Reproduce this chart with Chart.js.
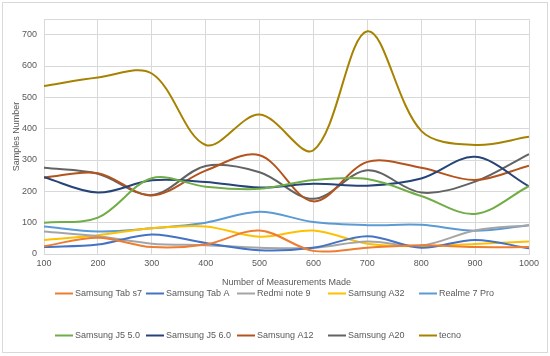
<!DOCTYPE html>
<html>
<head>
<meta charset="utf-8">
<script src="https://cdn.jsdelivr.net/npm/chart.js@4"></script>
<style>
  body { margin: 0; background: #fff; }
  #wrap { width: 550px; height: 356px; }
</style>
</head>
<body>
<div id="wrap"><canvas id="chart" width="550" height="356"></canvas></div>
<script>
// measurement counts (x axis)
const measurements = [100, 200, 300, 400, 500, 600, 700, 800, 900, 1000];

// samples number per device
const tabS7    = [25, 52, 22, 30, 75, 10, 20, 28, 22, 22];
const tabA     = [22, 30, 62, 35, 12, 20, 57, 20, 45, 18];
const redmi9   = [72, 57, 33, 28, 20, 20, 40, 27, 75, 92];
const a32      = [45, 60, 82, 88, 55, 75, 33, 25, 32, 40];
const realme7  = [88, 72, 82, 100, 135, 102, 92, 93, 74, 92];
const j5_50    = [100, 116, 242, 215, 208, 236, 239, 185, 128, 217];
const j5_60    = [245, 196, 235, 230, 212, 224, 218, 241, 310, 216];
const a12      = [244, 258, 187, 266, 315, 168, 294, 275, 236, 282];
const a20      = [275, 256, 188, 281, 261, 176, 267, 196, 231, 319];
const tecno    = [536, 563, 576, 348, 445, 331, 711, 393, 348, 374];

const seriesNames = ["Samsung Tab s7", "Samsung Tab A", "Redmi note 9", "Samsung A32", "Realme 7 Pro",
                     "Samsung J5 5.0", "Samsung J5 6.0", "Samsung A12", "Samsung A20", "tecno"];
const seriesValues = [tabS7, tabA, redmi9, a32, realme7, j5_50, j5_60, a12, a20, tecno];
const seriesColors = ["#ED7D31", "#4472C4", "#A5A5A5", "#FFC000", "#5B9BD5",
                      "#70AD47", "#264478", "#B3541E", "#636363", "#A68200"];

const yTicksMax = 750;
const FONT = "Liberation Sans";
const TEXT = "#595959";

const datasets = seriesNames.map((name, i) => ({
  label: name,
  data: measurements.map((m, j) => ({ x: m, y: seriesValues[i][j] })),
  borderColor: seriesColors[i],
  backgroundColor: seriesColors[i],
  borderWidth: 2,
  pointRadius: 0,
  tension: 0.34,
  fill: false
}));

// fond blanc + cadre gris
const framePlugin = {
  id: "frame",
  beforeDraw(chart) {
    const ctx = chart.ctx;
    ctx.save();
    ctx.fillStyle = "#fff";
    ctx.fillRect(0, 0, chart.width, chart.height);
    ctx.strokeStyle = "#d9d9d9";
    ctx.lineWidth = 1;
    ctx.strokeRect(2.5, 2.5, 545, 350);
    ctx.restore();
  }
};

// légende en deux lignes, cinq colonnes
const legendPlugin = {
  id: "gridLegend",
  afterDraw(chart) {
    const ctx = chart.ctx;
    ctx.save();
    ctx.font = "9px " + FONT;
    ctx.textBaseline = "middle";
    ctx.textAlign = "left";
    chart.data.datasets.forEach((ds, i) => {
      const col = i % 5;
      const row = Math.floor(i / 5);
      const x0 = 55 + col * 91;
      const y = row === 0 ? 293.5 : 335.5;
      ctx.strokeStyle = ds.borderColor;
      ctx.lineWidth = 2;
      ctx.beginPath();
      ctx.moveTo(x0, y);
      ctx.lineTo(x0 + 18, y);
      ctx.stroke();
      ctx.fillStyle = TEXT;
      ctx.fillText(ds.label, x0 + 20, y);
    });
    ctx.restore();
  }
};

new Chart(document.getElementById("chart"), {
  type: "line",
  data: { datasets: datasets },
  options: {
    responsive: false,
    animation: false,
    layout: { padding: { left: 6, top: 19, right: 21, bottom: 68 } },
    plugins: { legend: { display: false }, tooltip: { enabled: false } },
    scales: {
      x: {
        type: "linear",
        min: 100,
        max: 1000,
        ticks: { stepSize: 100, color: TEXT, font: { family: FONT, size: 9 }, padding: 4, maxRotation: 0,
                 callback: v => String(v) },
        grid: { color: "#d9d9d9", drawTicks: false },
        border: { color: "#d9d9d9" },
        title: { display: true, text: "Number of Measurements Made", color: TEXT,
                 font: { family: FONT, size: 9 }, padding: { top: 3, bottom: 0 } },
        afterFit(scale) { scale.height = 34; }
      },
      y: {
        min: 0,
        max: yTicksMax,
        ticks: {
          stepSize: 100, color: TEXT, font: { family: FONT, size: 9 }, padding: 7,
          callback: v => (v % 100 === 0 ? String(v) : "")
        },
        grid: { color: "#d9d9d9", drawTicks: false },
        border: { color: "#d9d9d9" },
        title: { display: true, text: "Samples Number", color: TEXT,
                 font: { family: FONT, size: 9 }, padding: { top: 5, bottom: 0 } },
        afterFit(scale) { scale.width = 38; }
      }
    }
  },
  plugins: [framePlugin, legendPlugin]
});
</script>
</body>
</html>
